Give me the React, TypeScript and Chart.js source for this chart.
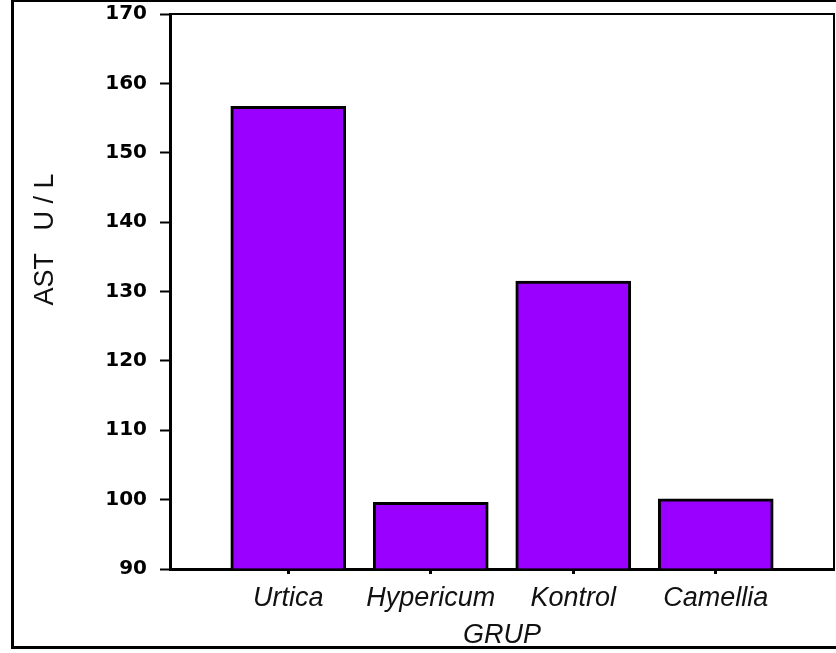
import { useEffect, useRef } from 'react';
import { Chart, registerables } from 'chart.js';

Chart.register(...registerables);

const categories = ['Urtica', 'Hypericum', 'Kontrol', 'Camellia'];
const astValues = [156.7, 99.6, 131.5, 100.1];
const yTicks = [90, 100, 110, 120, 130, 140, 150, 160, 170];
const xTitle = 'GRUP';
const yTitle = 'AST   U / L';

const W = 836;
const H = 653;

export default function App() {
  const ref = useRef<HTMLCanvasElement>(null);

  useEffect(() => {
    if (!ref.current) return;

    const framePlugin = {
      id: 'frame',
      beforeDraw(chart: any) {
        const ctx = chart.ctx;
        ctx.save();
        ctx.fillStyle = '#fff';
        ctx.fillRect(0, 0, chart.width, chart.height);
        ctx.restore();
      },
      afterDraw(chart: any) {
        const ctx = chart.ctx;
        const a = chart.chartArea;
        ctx.save();
        ctx.strokeStyle = '#000';
        // plot frame top & right
        ctx.lineWidth = 2;
        ctx.beginPath();
        ctx.moveTo(a.left, a.top);
        ctx.lineTo(a.right, a.top);
        ctx.lineTo(a.right, a.bottom);
        ctx.stroke();
        // outer border
        ctx.lineWidth = 3;
        ctx.beginPath();
        ctx.moveTo(12.5, 0);
        ctx.lineTo(12.5, 647.5);
        ctx.lineTo(W + 10, 647.5);
        ctx.stroke();
        ctx.lineWidth = 2;
        ctx.beginPath();
        ctx.moveTo(11, 1);
        ctx.lineTo(W + 10, 1);
        ctx.stroke();

        // titles
        ctx.fillStyle = '#111';
        ctx.textAlign = 'center';
        ctx.textBaseline = 'alphabetic';
        ctx.font = 'italic 27px "Liberation Sans", Arial, sans-serif';
        ctx.fillText(xTitle, 502, 643);

        ctx.font = '27px "Liberation Sans", Arial, sans-serif';
        ctx.translate(53, 239.5);
        ctx.rotate(-Math.PI / 2);
        ctx.fillText(yTitle, 0, 0);
        ctx.restore();
      },
    };

    const chart = new Chart(ref.current, {
      type: 'bar',
      data: {
        datasets: [
          {
            label: 'AST',
            data: astValues.map((v, i) => ({ x: i, y: v })),
            backgroundColor: '#9900FF',
            borderColor: '#000',
            borderWidth: 3,
            barThickness: 115,
            base: 90,
          } as any,
        ],
      },
      options: {
        responsive: false,
        animation: false,
        events: [],
        layout: { padding: { top: 14, right: 2, left: 0, bottom: 0 } },
        plugins: {
          legend: { display: false },
          tooltip: { enabled: false },
          title: { display: false },
        },
        scales: {
          x: {
            type: 'linear',
            min: -0.83,
            max: 3.83,
            bounds: 'data',
            offset: false,
            z: 1,
            afterBuildTicks: (s: any) => {
              s.ticks = categories.map((_, i) => ({ value: i }));
            },
            afterFit: (s: any) => {
              s.height = H - 569;
              s.paddingLeft = 0;
              s.paddingRight = 0;
            },
            grid: {
              display: true,
              offset: false,
              drawOnChartArea: false,
              drawTicks: true,
              tickLength: 5,
              tickWidth: 3,
              tickColor: '#000',
              color: '#000',
            },
            border: { display: true, color: '#000', width: 3 },
            ticks: {
              autoSkip: false,
              maxRotation: 0,
              minRotation: 0,
              padding: 8,
              color: '#111',
              font: { family: '"Liberation Sans", Arial, sans-serif', size: 27, style: 'italic' },
              callback: (v: any) => categories[Math.round(Number(v))] ?? '',
            },
          },
          y: {
            type: 'linear',
            min: 90,
            max: 170,
            z: 1,
            afterBuildTicks: (s: any) => {
              s.ticks = yTicks.map((v) => ({ value: v }));
            },
            afterFit: (s: any) => {
              s.width = 170;
              s.paddingTop = 0;
              s.paddingBottom = 0;
            },
            grid: {
              display: true,
              offset: false,
              drawOnChartArea: false,
              drawTicks: true,
              tickLength: 10,
              tickWidth: 2,
              tickColor: '#000',
              color: '#000',
            },
            border: { display: true, color: '#000', width: 3 },
            ticks: {
              padding: 13,
              color: '#000',
              font: { family: '"DejaVu Sans", sans-serif', size: 20, weight: 'bold' },
            },
          },
        },
      } as any,
      plugins: [framePlugin],
    });

    return () => chart.destroy();
  }, []);

  return (
    <div style={{ position: 'absolute', left: 0, top: 0, width: W, height: H, background: '#fff' }}>
      <canvas ref={ref} width={W} height={H} style={{ display: 'block', width: W, height: H }} />
    </div>
  );
}
